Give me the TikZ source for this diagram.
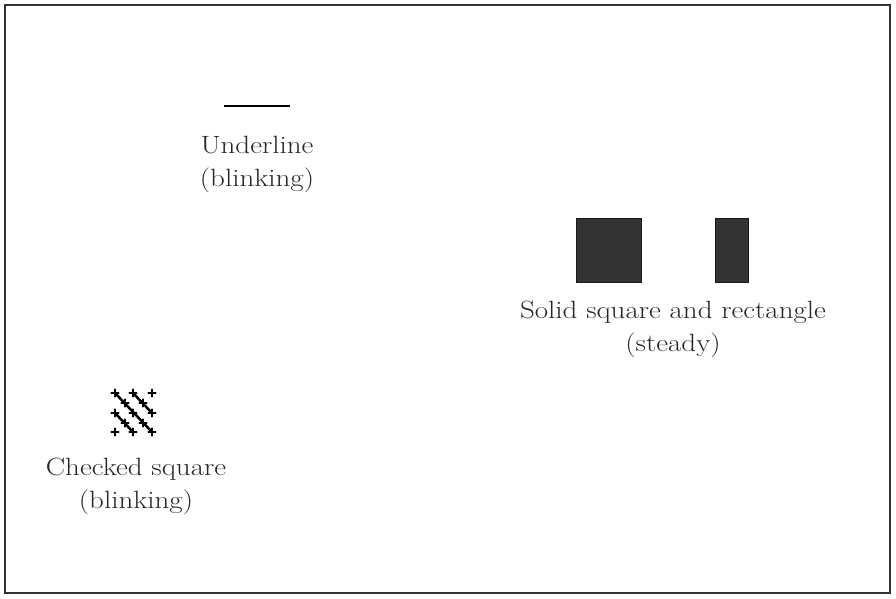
\documentclass[tikz,border=0pt]{standalone}
\usepackage{fontspec}
\setmainfont{Latin Modern Roman}[FakeStretch=1.16]
\usepackage{tikz}
\usetikzlibrary{arrows}

\begin{document}
\begin{tikzpicture}[x=1pt, y=-1pt,
		label/.style={align=center, font=\fontsize{25}{33}\selectfont, inner sep=0pt, text=black!85},
		cursor/.style={fill=black!80, draw=black!90, line width=1pt},
		dot/.style={line width=2.4pt, line cap=round}]
		% Bildbereich
		\useasboundingbox (0,0) rectangle (896,599);
		% Rahmen zeichnen
		\draw[line width=2pt, color=black!80] (5,5) rectangle (890,593);
		% Unterstrich
		\draw[line width=2.5pt] (224,106) -- (290,106);
		\node[label] (underline) at (257,164) {Underline\\(blinking)};
		% Quadrat und Rechteck
		\fill[cursor] (576,218) rectangle (641,282);
		\fill[cursor] (715,218) rectangle (748,282);
		\node[label] (solid) at (673,329) {Solid square and rectangle\\(steady)};
		% Kariertes Quadrat: Kreuze
		\foreach \x/\y in {115/393, 133/393, 152/393, 125/403, 143/403,
			115/413, 133/413, 152/413, 125/423, 143/423,
			115/432, 133/432, 152/432} {
			\draw[dot] (\x-3.5,\y) -- (\x+3.5,\y);
			\draw[dot] (\x,\y-3.5) -- (\x,\y+3.5);
		}
		% Diagonalen
		\draw[line width=2.5pt] (115,393) -- (152,432);
		\draw[line width=2.5pt] (133,393) -- (152,413);
		\draw[line width=2.5pt] (115,413) -- (133,432);
		\node[label] (checked) at (136,486) {Checked square\\(blinking)};
	\end{tikzpicture}
\end{document}
